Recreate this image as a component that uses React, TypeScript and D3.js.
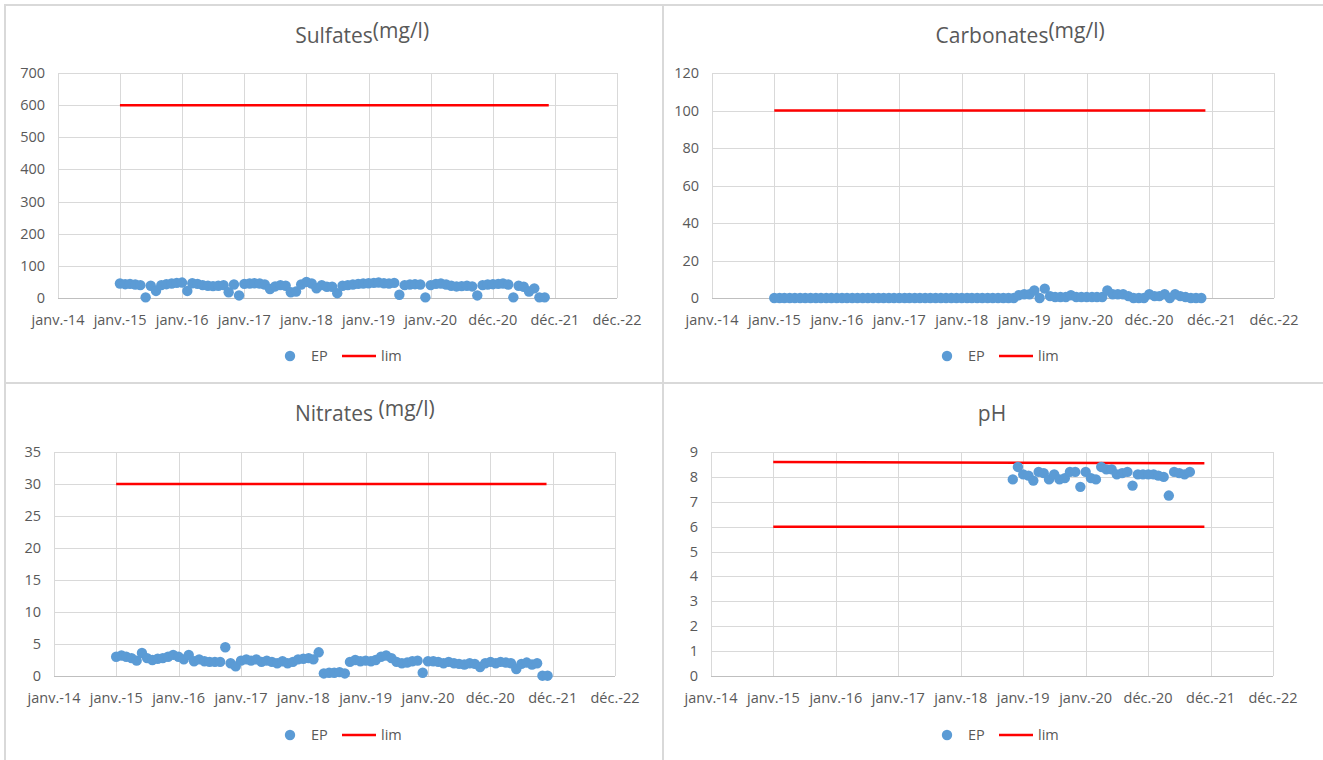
import { useEffect, useRef } from "react";
import * as d3 from "d3";

const WIDTH = 1323;
const HEIGHT = 760;

// Excel date axis: a major unit of 365 days starting 2 Jan 2014
const AXIS_START = new Date(2014, 0, 2);
const TICK_STEP_DAYS = 365;
const X_TICK_LABELS = [
  "janv.-14",
  "janv.-15",
  "janv.-16",
  "janv.-17",
  "janv.-18",
  "janv.-19",
  "janv.-20",
  "déc.-20",
  "déc.-21",
  "déc.-22",
];

const LIM_START = new Date(2015, 0, 1);
const LIM_END = new Date(2021, 10, 25);

const SULFATES_FIRST = new Date(2015, 0, 1);
const SULFATES = [
  45, 43, 44, 42, 40, 2, 38, 22, 40, 43, 45, 47,
  48, 22, 46, 44, 40, 38, 37, 38, 40, 18, 42, 8,
  44, 45, 46, 45, 42, 28, 36, 40, 38, 18, 20, 42,
  50, 45, 30, 40, 35, 35, 15, 38, 40, 42, 44, 45,
  46, 47, 48, 46, 45, 47, 10, 40, 42, 43, 42, 2,
  40, 44, 45, 42, 38, 36, 37, 38, 36, 8, 40, 42,
  43, 44, 45, 42, 2, 38, 35, 20, 30, 2, 2,
];
const SULFATES_LIM = [600, 600];

const CARBONATES_FIRST = new Date(2015, 0, 1);
const CARBONATES = [
  0, 0, 0, 0, 0, 0, 0, 0, 0, 0, 0, 0,
  0, 0, 0, 0, 0, 0, 0, 0, 0, 0, 0, 0,
  0, 0, 0, 0, 0, 0, 0, 0, 0, 0, 0, 0,
  0, 0, 0, 0, 0, 0, 0, 0, 0, 0, 0, 1.5,
  2, 2, 4, 0, 5, 1, 0.5, 0.5, 0.5, 1.5, 0.5, 0.5,
  0.5, 0.5, 0.5, 0.5, 4, 2, 2, 2, 1, 0, 0, 0,
  2, 1, 1, 2, 0, 2, 1, 0.5, 0, 0, 0,
];
const CARBONATES_LIM = [100, 100];

const NITRATES_FIRST = new Date(2015, 0, 1);
const NITRATES = [
  3.0, 3.2, 3.0, 2.8, 2.4, 3.6, 2.8, 2.5, 2.7, 2.8, 3.0, 3.3,
  3.0, 2.6, 3.3, 2.3, 2.6, 2.3, 2.2, 2.2, 2.2, 4.5, 2.0, 1.5,
  2.4, 2.6, 2.4, 2.6, 2.2, 2.4, 2.2, 2.0, 2.3, 2.0, 2.2, 2.6,
  2.7, 2.8, 2.6, 3.7, 0.4, 0.5, 0.5, 0.6, 0.4, 2.2, 2.5, 2.3,
  2.4, 2.3, 2.5, 3.0, 3.2, 2.8, 2.2, 2.0, 2.1, 2.3, 2.4, 0.5,
  2.3, 2.3, 2.2, 2.0, 2.2, 2.0, 1.9, 1.8, 2.0, 1.9, 1.4, 2.0,
  2.2, 2.0, 2.2, 2.1, 2.0, 1.1, 1.9, 2.1, 1.8, 2.0, 0.05, 0.05,
];
const NITRATES_LIM = [30, 30];

const PH_FIRST = new Date(2018, 10, 1);
const PH = [
  7.9, 8.4, 8.1, 8.05, 7.85, 8.2, 8.15, 7.9, 8.1, 7.9, 7.95, 8.2,
  8.2, 7.6, 8.2, 7.95, 7.9, 8.4, 8.3, 8.3, 8.1, 8.15, 8.2, 7.65,
  8.1, 8.1, 8.1, 8.1, 8.05, 8.0, 7.25, 8.2, 8.15, 8.1, 8.2,
];
const PH_LIM_HIGH = [8.6, 8.55];
const PH_LIM_LOW = [6, 6];

const FONT = "'Open Sans', 'Liberation Sans', sans-serif";
const TEXT_COLOR = "#595959";
const GRID_COLOR = "#d9d9d9";
const AXIS_COLOR = "#bfbfbf";
const DOT_COLOR = "#5b9bd5";
const LIM_COLOR = "#ff0000";

type Panel = {
  frame: [number, number, number, number];
  plot: { left: number; right: number; top: number; bottom: number };
  title: string;
  unit: string;
  titleY: number;
  yMax: number;
  yStep: number;
  first: Date;
  values: number[];
  lims: number[][];
  legendX: number;
  legendY: number;
};

const PANELS: Panel[] = [
  {
    frame: [5, 5, 658, 378],
    plot: { left: 58, right: 617, top: 73, bottom: 298 },
    title: "Sulfates",
    unit: "(mg/l)",
    titleY: 43,
    yMax: 700,
    yStep: 100,
    first: SULFATES_FIRST,
    values: SULFATES,
    lims: [SULFATES_LIM],
    legendX: 290,
    legendY: 356,
  },
  {
    frame: [663, 5, 670, 378],
    plot: { left: 712, right: 1274, top: 73, bottom: 298 },
    title: "Carbonates",
    unit: "(mg/l)",
    titleY: 43,
    yMax: 120,
    yStep: 20,
    first: CARBONATES_FIRST,
    values: CARBONATES,
    lims: [CARBONATES_LIM],
    legendX: 947,
    legendY: 356,
  },
  {
    frame: [5, 383, 658, 390],
    plot: { left: 54, right: 615, top: 452, bottom: 676 },
    title: "Nitrates",
    unit: " (mg/l)",
    titleY: 421,
    yMax: 35,
    yStep: 5,
    first: NITRATES_FIRST,
    values: NITRATES,
    lims: [NITRATES_LIM],
    legendX: 290,
    legendY: 735,
  },
  {
    frame: [663, 383, 670, 390],
    plot: { left: 711, right: 1273, top: 452, bottom: 676 },
    title: "pH",
    unit: "",
    titleY: 421,
    yMax: 9,
    yStep: 1,
    first: PH_FIRST,
    values: PH,
    lims: [PH_LIM_HIGH, PH_LIM_LOW],
    legendX: 947,
    legendY: 735,
  },
];

function drawPanel(root: d3.Selection<SVGSVGElement, unknown, null, undefined>, p: Panel) {
  const g = root.append("g");
  const [fx, fy, fw, fh] = p.frame;
  g.append("rect")
    .attr("x", fx)
    .attr("y", fy)
    .attr("width", fw)
    .attr("height", fh)
    .attr("fill", "#fff")
    .attr("stroke", GRID_COLOR)
    .attr("stroke-width", 2);

  const tickDates = X_TICK_LABELS.map((_, i) => d3.timeDay.offset(AXIS_START, i * TICK_STEP_DAYS));
  const x = d3
    .scaleTime()
    .domain([tickDates[0], tickDates[tickDates.length - 1]])
    .range([p.plot.left, p.plot.right]);
  const y = d3.scaleLinear().domain([0, p.yMax]).range([p.plot.bottom, p.plot.top]);
  const yTicks = d3.range(0, p.yMax + p.yStep / 2, p.yStep);

  // gridlines
  g.append("g")
    .selectAll("line")
    .data(yTicks.slice(1))
    .join("line")
    .attr("x1", p.plot.left)
    .attr("x2", p.plot.right)
    .attr("y1", (d) => Math.round(y(d)) + 0.5)
    .attr("y2", (d) => Math.round(y(d)) + 0.5)
    .attr("stroke", GRID_COLOR);
  g.append("g")
    .selectAll("line")
    .data(tickDates)
    .join("line")
    .attr("x1", (d) => Math.round(x(d)) + 0.5)
    .attr("x2", (d) => Math.round(x(d)) + 0.5)
    .attr("y1", p.plot.top)
    .attr("y2", p.plot.bottom)
    .attr("stroke", GRID_COLOR);
  g.append("line")
    .attr("x1", p.plot.left)
    .attr("x2", p.plot.right)
    .attr("y1", Math.round(y(0)) + 0.5)
    .attr("y2", Math.round(y(0)) + 0.5)
    .attr("stroke", AXIS_COLOR);

  // tick labels
  g.append("g")
    .selectAll("text")
    .data(yTicks)
    .join("text")
    .attr("x", p.plot.left - 13)
    .attr("y", (d) => y(d) + 5)
    .attr("text-anchor", "end")
    .attr("font-size", 14.5)
    .attr("font-family", FONT)
    .attr("fill", TEXT_COLOR)
    .text((d) => String(d));
  g.append("g")
    .selectAll("text")
    .data(tickDates)
    .join("text")
    .attr("x", (d) => x(d))
    .attr("y", p.plot.bottom + 27)
    .attr("text-anchor", "middle")
    .attr("font-size", 14.5)
    .attr("font-family", FONT)
    .attr("fill", TEXT_COLOR)
    .text((_, i) => X_TICK_LABELS[i]);

  // lim lines
  const limLine = d3
    .line<[Date, number]>()
    .x((d) => x(d[0]))
    .y((d) => y(d[1]));
  g.append("g")
    .selectAll("path")
    .data(p.lims)
    .join("path")
    .attr("d", (l) => limLine([[LIM_START, l[0]], [LIM_END, l[1]]]))
    .attr("fill", "none")
    .attr("stroke", LIM_COLOR)
    .attr("stroke-width", 2.5);

  // EP points
  g.append("g")
    .selectAll("circle")
    .data(p.values)
    .join("circle")
    .attr("cx", (_, i) => x(d3.timeMonth.offset(p.first, i)))
    .attr("cy", (d) => y(d))
    .attr("r", 5.2)
    .attr("fill", DOT_COLOR);

  // title
  const cx = fx + fw / 2 + (fw > 660 ? -6 : 0);
  const word = g
    .append("text")
    .attr("x", cx)
    .attr("y", p.titleY)
    .attr("text-anchor", "middle")
    .attr("font-size", 21)
    .attr("font-family", FONT)
    .attr("fill", TEXT_COLOR)
    .text(p.title);
  if (p.unit) {
    const w = (word.node() as SVGTextElement).getComputedTextLength();
    g.append("text")
      .attr("x", cx + w / 2)
      .attr("y", p.titleY - 5)
      .attr("font-size", 21)
      .attr("font-family", FONT)
      .attr("fill", TEXT_COLOR)
      .style("white-space", "pre")
      .text(p.unit);
  }

  // legend
  const lg = g.append("g").attr("transform", `translate(${p.legendX},${p.legendY})`);
  lg.append("circle").attr("cx", 0).attr("cy", 0).attr("r", 5.2).attr("fill", DOT_COLOR);
  lg.append("text")
    .attr("x", 21)
    .attr("y", 5)
    .attr("font-size", 14.5)
    .attr("font-family", FONT)
    .attr("fill", TEXT_COLOR)
    .text("EP");
  lg.append("line")
    .attr("x1", 52)
    .attr("x2", 86)
    .attr("y1", 0)
    .attr("y2", 0)
    .attr("stroke", LIM_COLOR)
    .attr("stroke-width", 2.5);
  lg.append("text")
    .attr("x", 91)
    .attr("y", 5)
    .attr("font-size", 14.5)
    .attr("font-family", FONT)
    .attr("fill", TEXT_COLOR)
    .text("lim");
}

export default function App() {
  const svgRef = useRef<SVGSVGElement>(null);

  useEffect(() => {
    const svgEl = svgRef.current;
    if (!svgEl) {
      return;
    }
    const root = d3.select(svgEl);
    root.selectAll("*").remove();
    root.append("rect").attr("width", WIDTH).attr("height", HEIGHT).attr("fill", "#fff");
    for (const p of PANELS) {
      drawPanel(root, p);
    }
  }, []);

  return (
    <svg
      ref={svgRef}
      width={WIDTH}
      height={HEIGHT}
      style={{ position: "absolute", left: 0, top: 0, display: "block" }}
    />
  );
}
